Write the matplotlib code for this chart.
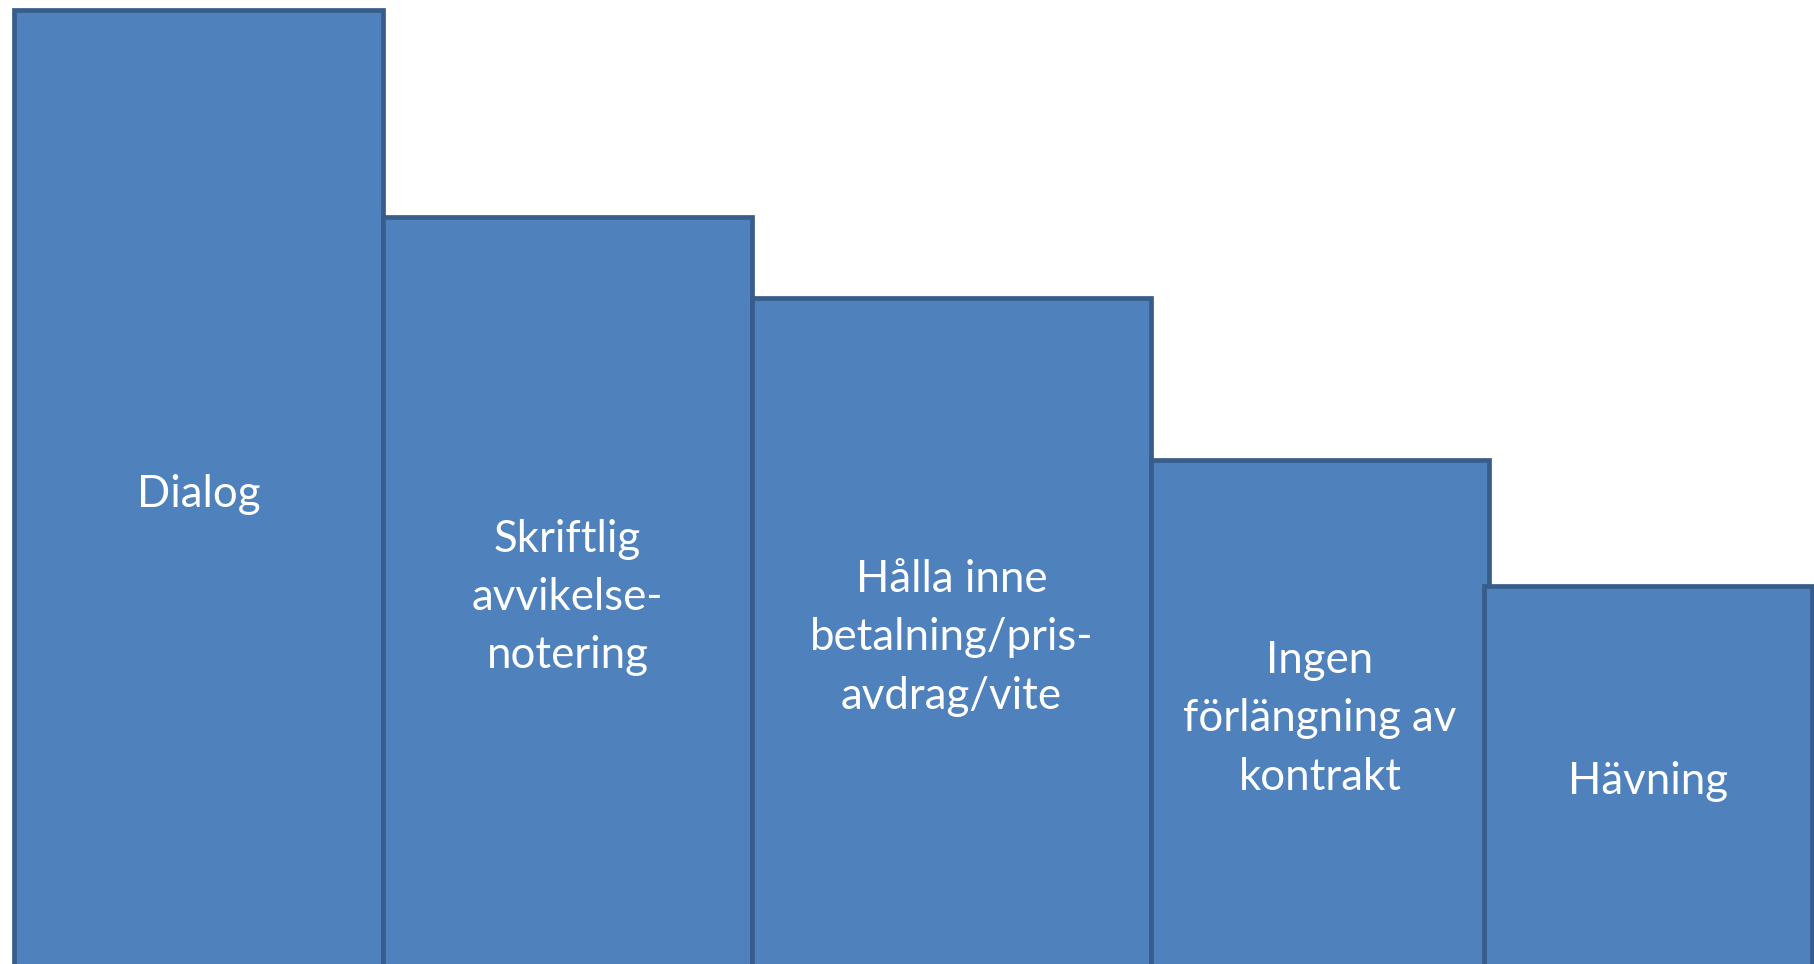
import matplotlib
matplotlib.use("Agg")
import matplotlib.pyplot as plt

# Data
categories = [
    "Dialog",
    "Skriftlig\navvikelse-\nnotering",
    "Hålla inne\nbetalning/pris-\navdrag/vite",
    "Ingen\nförlängning av\nkontrakt",
    "Hävning",
]
values = [100.0, 78.5, 70.1, 53.25, 40.15]

# Layout (pixel-based x edges)
W, H = 1814, 964
lefts = [14, 383, 752, 1151, 1484]
widths = [369, 369, 399, 338, 328]

fill = "#4F81BD"
edge = "#385D8A"

fig = plt.figure(figsize=(W / 100, H / 100), dpi=100)
ax = fig.add_axes([0, 0, 1, 1])
ax.set_xlim(0, W)
ax.set_ylim(0.83, 101.09)
ax.axis("off")

for i, (l, w, v, c) in enumerate(zip(lefts, widths, values, categories)):
    ax.bar(l, v, width=w, align="edge", color=fill, edgecolor=edge,
           linewidth=3.4, zorder=2 + i)
    ax.text(l + w / 2, v / 2 - 0.3, c, ha="center", va="center", color="white",
            fontsize=31.5, family=["Lato", "DejaVu Sans"], linespacing=1.52,
            zorder=10)

fig.savefig("out.png", dpi=100, facecolor="white")
